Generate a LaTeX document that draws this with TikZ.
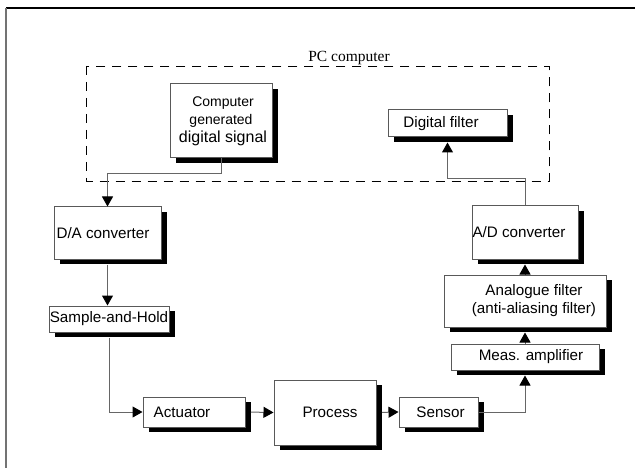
\documentclass[tikz,border=0pt]{standalone}
\usepackage{fontspec}
\setmainfont{Liberation Sans}
\newfontfamily\pcserif{Liberation Serif}
\usetikzlibrary{arrows.meta,shadows}
\begin{document}
\begin{tikzpicture}[x=1pt,y=-1pt,
  blk/.style={rectangle, draw=black!65, line width=1pt, fill=white, inner sep=0pt,
    font=\fontsize{15.2}{18}\selectfont,
    general shadow={fill=black, draw=none, shadow xshift=5.5pt, shadow yshift=-5pt}},
  conn/.style={draw=black!60, line width=1pt, -{Triangle[width=11pt,length=10pt,color=black]}},
  pcframe/.style={draw=black, line width=0.9pt, dash pattern=on 9.5pt off 6.5pt}]
\useasboundingbox (0,0) rectangle (635,468);
% outer frame fragments
\draw[black, line width=1.1pt] (6,8) -- (635,8);
\draw[black!55, line width=1.5pt] (6,8) -- (6,468);
% PC computer region
\draw[pcframe] (86.7,66) rectangle (549,181);
\node[anchor=base, font=\pcserif\fontsize{15.5}{18}\selectfont] (pclabel) at (349,62) {PC computer};
% blocks
\node[blk, minimum width=102pt, minimum height=74pt, align=center] (cg) at (221,121)
  {{\fontsize{14}{17.5}\selectfont Computer\hspace*{-4pt}}\\{\fontsize{14}{17.5}\selectfont generated\hspace*{-4pt}}\\{\fontsize{16}{18}\selectfont digital signal\hspace*{-4pt}}};
\node[blk, minimum width=119pt, minimum height=27pt] (df) at (447.5,123.5) {Digital filter\hspace*{13pt}};
\node[blk, minimum width=107pt, minimum height=52pt] (da) at (107.5,233) {D/A converter\hspace*{9pt}};
\node[blk, minimum width=120pt, minimum height=26pt] (sh) at (109,319) {Sample-and-Hold};
\node[blk, minimum width=102pt, minimum height=30pt] (act) at (194,412) {Actuator\hspace*{24pt}};
\node[blk, minimum width=102pt, minimum height=65pt] (proc) at (325,412.5) {\hspace*{10pt}Process};
\node[blk, minimum width=79pt, minimum height=30pt] (sens) at (438.5,412) {\hspace*{4pt}Sensor};
\node[blk, minimum width=148pt, minimum height=26pt] (meas) at (525,357) {\hspace*{12pt}Meas. amplifier};
\node[blk, minimum width=162pt, minimum height=52pt, align=center] (ana) at (525,301)
  {\hspace*{18pt}Analogue filter\\\hspace*{18pt}(anti-aliasing filter)};
\node[blk, minimum width=106pt, minimum height=53pt] (ad) at (525,232.5) {A/D converter\hspace*{12pt}};
% connectors
\draw[conn] (cg.south) -- ++(0,15) -| (da.north);
\draw[conn, shorten <=5pt] (da.south) -- (da.south |- sh.north);
\draw[conn, shorten <=5pt] (sh.south) |- (act.west);
\draw[conn, shorten <=5.5pt] (act.east) -- (proc.west);
\draw[conn, shorten <=5.5pt] (proc.east) -- (sens.west);
\draw[conn, shorten >=5pt] (sens.east) -| (meas.south);
\draw[conn, shorten >=5pt] (meas.north) -- (ana.south);
\draw[conn, shorten >=5pt] (ana.north) -- (ad.south);
\draw[conn, shorten >=5pt] (ad.north) -- ++(0,-26.5) -| (df.south);
\end{tikzpicture}
\end{document}
